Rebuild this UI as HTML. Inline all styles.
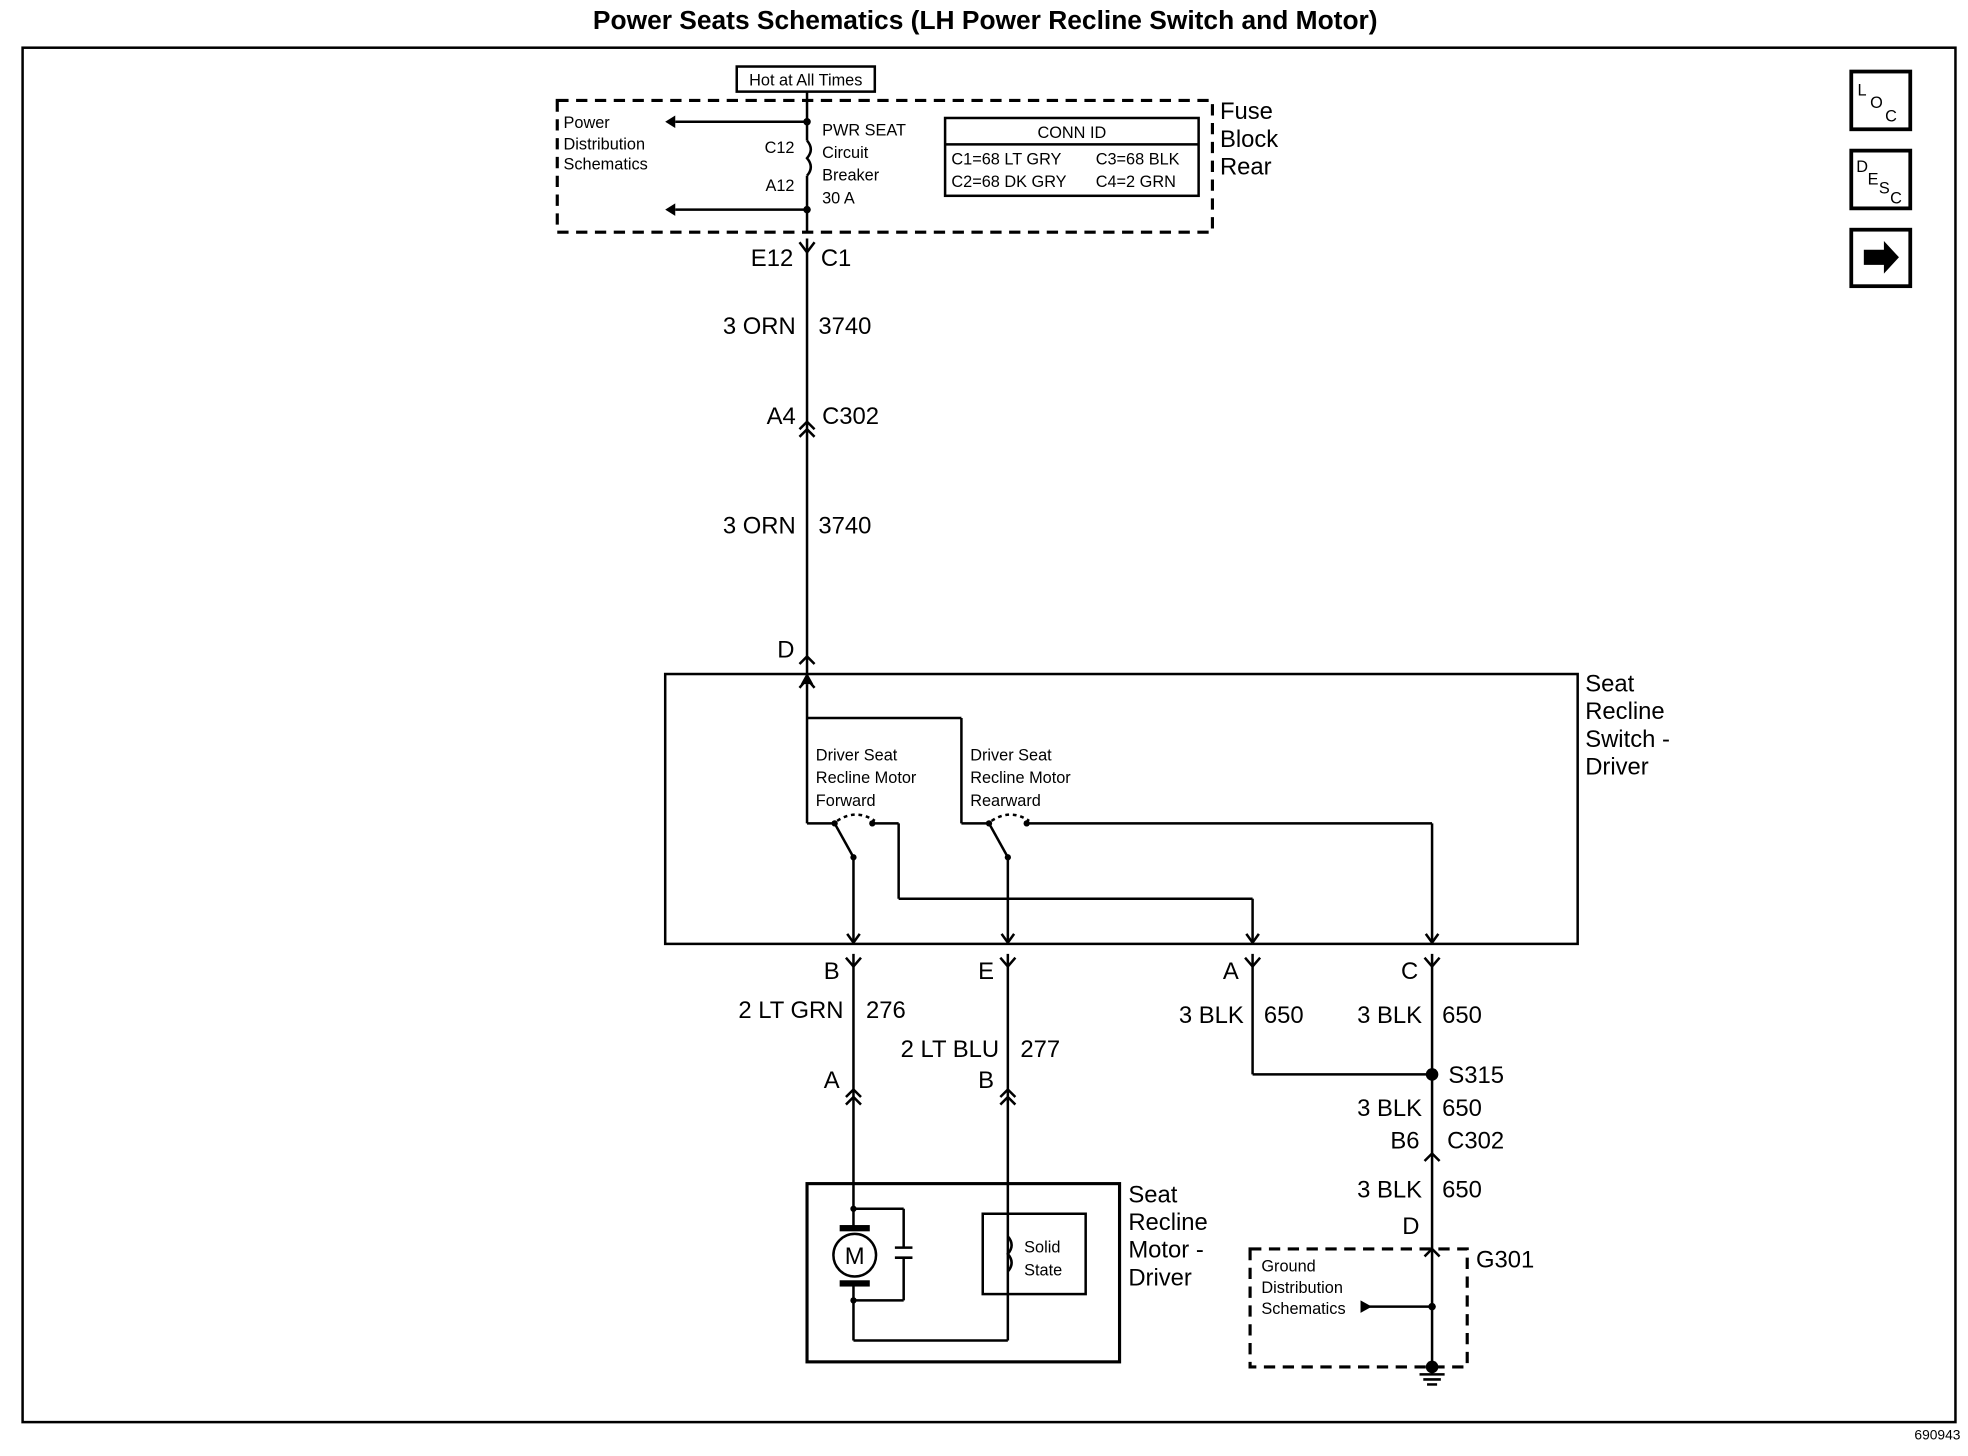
<!DOCTYPE html>
<html><head><meta charset="utf-8"><style>
html,body{margin:0;padding:0;background:#fff}
svg{display:block}
text{font-family:"Liberation Sans",Arial,sans-serif;fill:#000}
</style></head><body>
<svg width="1968" height="1456" viewBox="0 0 1568 1160" preserveAspectRatio="none" xmlns="http://www.w3.org/2000/svg">
<g stroke="#000" fill="none" stroke-width="2">
<rect x="18" y="38" width="1540" height="1095"/>
<rect x="1475" y="57" width="47" height="46" stroke-width="3"/>
<rect x="1475" y="120" width="47" height="46" stroke-width="3"/>
<rect x="1475" y="183" width="47" height="45" stroke-width="3"/>
<rect x="587" y="53" width="110" height="20"/>
<rect x="444" y="80" width="522" height="105" stroke-dasharray="9,6" stroke-width="2.5"/>
<rect x="753" y="94" width="202" height="62"/>
<line x1="753" y1="115" x2="955" y2="115"/>
<line x1="643" y1="73" x2="643" y2="112"/>
<path d="M643 112 q6 7 0 14 q6 7 0 14"/>
<line x1="643" y1="140" x2="643" y2="185"/>
<line x1="643" y1="97" x2="538" y2="97"/>
<line x1="643" y1="167" x2="538" y2="167"/>
<line x1="643" y1="190" x2="643" y2="545"/>
<path d="M637 193 l6 8 l6 -8"/>
<path d="M637 342 l6 -6 l6 6 M637 348 l6 -6 l6 6"/>
<path d="M637 529 l6 -6 l6 6"/>
<rect x="530" y="537" width="727" height="215"/>
<line x1="643" y1="545" x2="643" y2="656"/>
<line x1="643" y1="656" x2="665" y2="656"/>
<line x1="643" y1="572" x2="766" y2="572"/>
<line x1="766" y1="572" x2="766" y2="656"/>
<line x1="766" y1="656" x2="788" y2="656"/>
<line x1="665" y1="656" x2="680" y2="683" />
<line x1="788" y1="656" x2="803" y2="683"/>
<path d="M667 654 q15 -10 30 0" stroke-dasharray="3,3"/>
<path d="M790 654 q15 -10 30 0" stroke-dasharray="3,3"/>
<line x1="695" y1="656" x2="716" y2="656"/>
<line x1="716" y1="656" x2="716" y2="716"/>
<line x1="716" y1="716" x2="998" y2="716"/>
<line x1="998" y1="716" x2="998" y2="752"/>
<line x1="818" y1="656" x2="1141" y2="656"/>
<line x1="1141" y1="656" x2="1141" y2="752"/>
<line x1="680" y1="683" x2="680" y2="752"/>
<line x1="803" y1="683" x2="803" y2="752"/>
<path d="M675 744 l5 7 l5 -7 M798 744 l5 7 l5 -7 M993 744 l5 7 l5 -7 M1136 744 l5 7 l5 -7"/>
<path d="M637 548 l6 -7 l6 7"/>
<line x1="680" y1="760" x2="680" y2="978"/>
<line x1="680" y1="1022" x2="680" y2="1068"/>
<line x1="803" y1="760" x2="803" y2="1068"/>
<line x1="998" y1="760" x2="998" y2="856"/>
<line x1="998" y1="856" x2="1141" y2="856"/>
<line x1="1141" y1="760" x2="1141" y2="1095"/>
<path d="M674 763 l6 7 l6 -7 M797 763 l6 7 l6 -7 M992 763 l6 7 l6 -7 M1135 763 l6 7 l6 -7"/>
<path d="M674 874 l6 -6 l6 6 M674 880 l6 -6 l6 6 M797 874 l6 -6 l6 6 M797 880 l6 -6 l6 6"/>
<path d="M1135 925 l6 -6 l6 6 M1135 1001 l6 -6 l6 6"/>
<rect x="643" y="943" width="249" height="142" stroke-width="2.5"/>
<line x1="680" y1="963" x2="720" y2="963"/>
<line x1="720" y1="963" x2="720" y2="994"/>
<line x1="713" y1="994" x2="727" y2="994"/>
<line x1="713" y1="1002" x2="727" y2="1002"/>
<line x1="720" y1="1002" x2="720" y2="1036"/>
<line x1="680" y1="1036" x2="720" y2="1036"/>
<line x1="680" y1="1068" x2="803" y2="1068"/>
<circle cx="681" cy="1000" r="17" fill="#fff"/>
<rect x="783" y="967" width="82" height="64"/>
<path d="M803 985 q6 7 0 14 q6 7 0 14"/>
<rect x="996" y="995" width="173" height="94" stroke-dasharray="9,6" stroke-width="2.5"/>
<line x1="1090" y1="1041" x2="1141" y2="1041"/>
<line x1="1131" y1="1095" x2="1151" y2="1095"/>
<line x1="1134" y1="1099" x2="1148" y2="1099"/>
<line x1="1137" y1="1103" x2="1145" y2="1103"/>
</g>
<g fill="#000">
<circle cx="643" cy="97" r="3"/><circle cx="643" cy="167" r="3"/>
<path d="M538 92 l-8 5 l8 5z"/><path d="M538 162 l-8 5 l8 5z"/>
<path d="M638 545 l5 -9 l5 9z"/>
<circle cx="1141" cy="856" r="5"/>
<circle cx="1141" cy="1041" r="3"/><circle cx="1141" cy="1089" r="5"/>
<path d="M1084 1036 l9 5 l-9 5z"/>
<rect x="669" y="976" width="24" height="5"/><rect x="669" y="1020" width="24" height="5"/>
<circle cx="680" cy="963" r="2.5"/><circle cx="680" cy="1036" r="2.5"/>
<circle cx="665" cy="656" r="2.5"/><circle cx="695" cy="656" r="2.5"/><circle cx="680" cy="683" r="2.5"/>
<circle cx="788" cy="656" r="2.5"/><circle cx="818" cy="656" r="2.5"/><circle cx="803" cy="683" r="2.5"/>
<path d="M1485 199 h16 v-7 l12 13 l-12 13 v-7 h-16z"/>
</g>
<text x="785" y="23" font-size="21" font-weight="bold" text-anchor="middle">Power Seats Schematics (LH Power Recline Switch and Motor)</text>
<text x="1562" y="1147" font-size="11" text-anchor="end">690943</text>
<text x="1480" y="76" font-size="13">L</text><text x="1490" y="86" font-size="13">O</text><text x="1502" y="97" font-size="13">C</text>
<text x="1479" y="137" font-size="13">D</text><text x="1488" y="147" font-size="13">E</text><text x="1497" y="154" font-size="13">S</text><text x="1506" y="162" font-size="13">C</text>
<text x="642" y="68" font-size="13" text-anchor="middle">Hot at All Times</text>
<g font-size="13">
<text x="449" y="102">Power</text><text x="449" y="119">Distribution</text><text x="449" y="135">Schematics</text>
<text x="655" y="108">PWR SEAT</text><text x="655" y="126">Circuit</text><text x="655" y="144">Breaker</text><text x="655" y="162">30 A</text>
<text x="633" y="122" text-anchor="end">C12</text><text x="633" y="152" text-anchor="end">A12</text>
<text x="854" y="110" text-anchor="middle">CONN ID</text>
<text x="758" y="131">C1=68 LT GRY</text><text x="873" y="131">C3=68 BLK</text>
<text x="758" y="149">C2=68 DK GRY</text><text x="873" y="149">C4=2 GRN</text>
<text x="650" y="606">Driver Seat</text><text x="650" y="624">Recline Motor</text><text x="650" y="642">Forward</text>
<text x="773" y="606">Driver Seat</text><text x="773" y="624">Recline Motor</text><text x="773" y="642">Rearward</text>
<text x="816" y="998">Solid</text><text x="816" y="1016">State</text>
<text x="1005" y="1013">Ground</text><text x="1005" y="1030">Distribution</text><text x="1005" y="1047">Schematics</text>
</g>
<g font-size="19">
<text x="972" y="95">Fuse</text><text x="972" y="117">Block</text><text x="972" y="139">Rear</text>
<text x="632" y="212" text-anchor="end">E12</text><text x="654" y="212">C1</text>
<text x="634" y="266" text-anchor="end">3 ORN</text><text x="652" y="266">3740</text>
<text x="634" y="338" text-anchor="end">A4</text><text x="655" y="338">C302</text>
<text x="634" y="425" text-anchor="end">3 ORN</text><text x="652" y="425">3740</text>
<text x="633" y="524" text-anchor="end">D</text>
<text x="1263" y="551">Seat</text><text x="1263" y="573">Recline</text><text x="1263" y="595">Switch -</text><text x="1263" y="617">Driver</text>
<text x="669" y="780" text-anchor="end">B</text><text x="792" y="780" text-anchor="end">E</text><text x="987" y="780" text-anchor="end">A</text><text x="1130" y="780" text-anchor="end">C</text>
<text x="672" y="811" text-anchor="end">2 LT GRN</text><text x="690" y="811">276</text>
<text x="796" y="842" text-anchor="end">2 LT BLU</text><text x="813" y="842">277</text>
<text x="991" y="815" text-anchor="end">3 BLK</text><text x="1007" y="815">650</text>
<text x="1133" y="815" text-anchor="end">3 BLK</text><text x="1149" y="815">650</text>
<text x="669" y="867" text-anchor="end">A</text><text x="792" y="867" text-anchor="end">B</text>
<text x="1154" y="863">S315</text>
<text x="1133" y="889" text-anchor="end">3 BLK</text><text x="1149" y="889">650</text>
<text x="1131" y="915" text-anchor="end">B6</text><text x="1153" y="915">C302</text>
<text x="1133" y="954" text-anchor="end">3 BLK</text><text x="1149" y="954">650</text>
<text x="1131" y="983" text-anchor="end">D</text>
<text x="1176" y="1010">G301</text>
<text x="899" y="958">Seat</text><text x="899" y="980">Recline</text><text x="899" y="1002">Motor -</text><text x="899" y="1024">Driver</text>
<text x="681" y="1007" text-anchor="middle">M</text>
</g>
</svg>
</body></html>
